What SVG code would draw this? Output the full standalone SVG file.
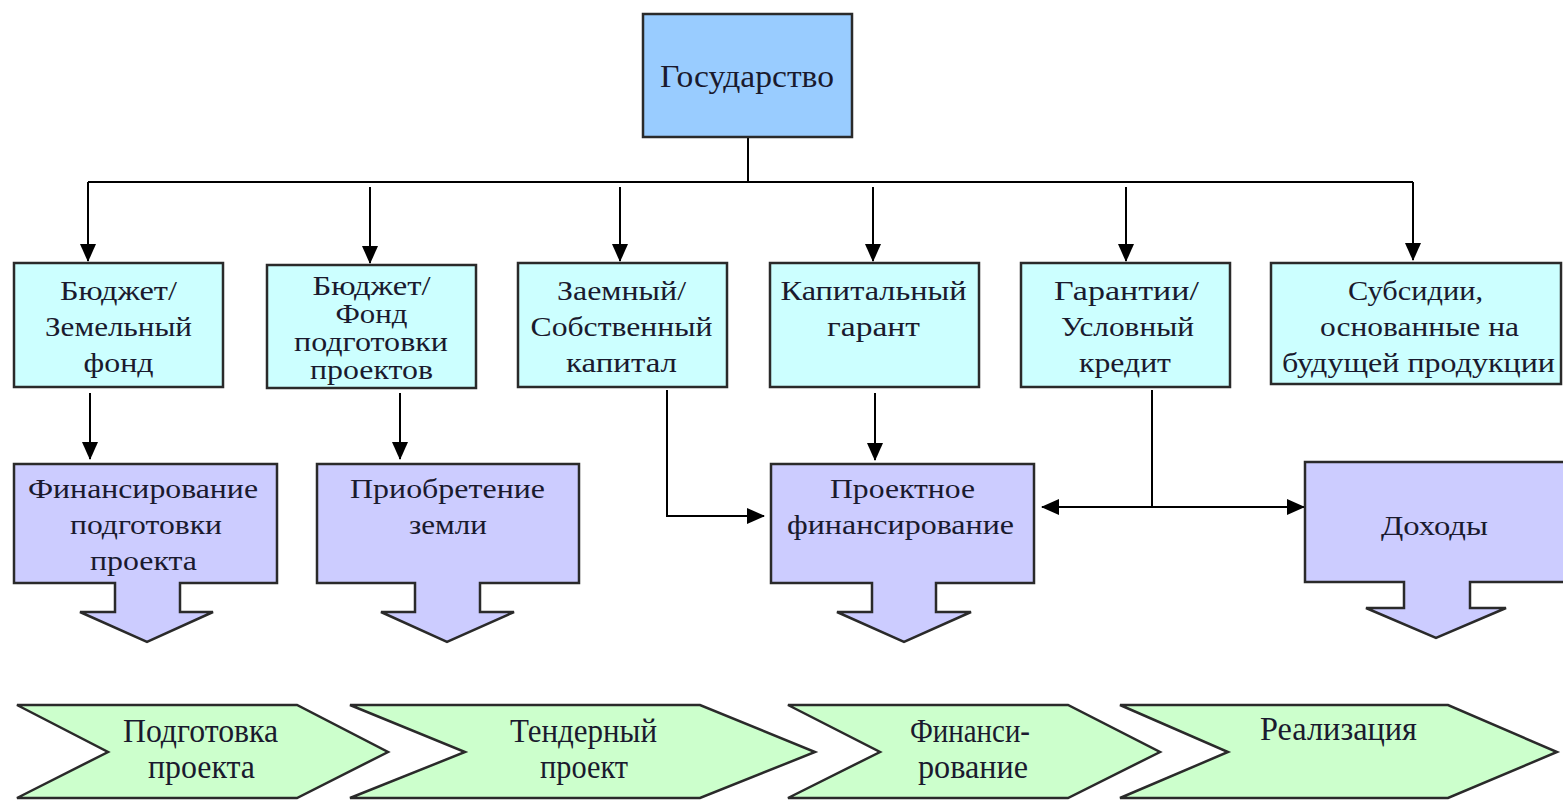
<svg xmlns="http://www.w3.org/2000/svg" width="1563" height="800" viewBox="0 0 1563 800">
<style>
  .box{stroke:#2a2a2a;stroke-width:2.5}
  .top{fill:#99ccff}
  .cy{fill:#ccffff}
  .pu{fill:#ccccff}
  .gr{fill:#ccffcc}
  text{font-family:"Liberation Serif","Times New Roman",serif;fill:#1a1a2e;text-anchor:middle}
  .t27{font-size:27px}
  .t31{font-size:31px}
  .t33{font-size:33px}
  .ln{stroke:#000;stroke-width:2;fill:none}
</style>
<defs>
  <marker id="ah" markerUnits="userSpaceOnUse" markerWidth="18" markerHeight="16" refX="17" refY="8" orient="auto-start-reverse" viewBox="0 0 18 16">
    <path d="M0,0 L18,8 L0,16 z" fill="#000"/>
  </marker>
</defs>

<g id="connectors">
  <path class="ln" d="M748,137 V182"/>
  <path class="ln" d="M88,182 H1413"/>
  <path class="ln" d="M88,182 V261" marker-end="url(#ah)"/>
  <path class="ln" d="M370,187 V263" marker-end="url(#ah)"/>
  <path class="ln" d="M620,187 V261" marker-end="url(#ah)"/>
  <path class="ln" d="M873,187 V261" marker-end="url(#ah)"/>
  <path class="ln" d="M1126,187 V261" marker-end="url(#ah)"/>
  <path class="ln" d="M1413,182 V260" marker-end="url(#ah)"/>
  <path class="ln" d="M90,393 V459" marker-end="url(#ah)"/>
  <path class="ln" d="M400,393 V459" marker-end="url(#ah)"/>
  <path class="ln" d="M875,393 V460" marker-end="url(#ah)"/>
  <path class="ln" d="M667,390 V516 H764" marker-end="url(#ah)"/>
  <path class="ln" d="M1152,390 V507"/>
  <path class="ln" d="M1042,507 H1304" marker-start="url(#ah)" marker-end="url(#ah)"/>
</g>

<g id="gosudarstvo">
  <rect class="box top" x="643" y="14" width="209" height="123"/>
  <text class="t31" x="747" y="87" textLength="174" lengthAdjust="spacingAndGlyphs">Государство</text>
</g>

<g id="budget-land">
  <rect class="box cy" x="14" y="263" width="209" height="124"/>
  <text class="t27" x="118.5" y="300" textLength="117" lengthAdjust="spacingAndGlyphs">Бюджет/</text>
  <text class="t27" x="118.5" y="336" textLength="147" lengthAdjust="spacingAndGlyphs">Земельный</text>
  <text class="t27" x="118.5" y="372" textLength="70" lengthAdjust="spacingAndGlyphs">фонд</text>
</g>

<g id="budget-fund">
  <rect class="box cy" x="267" y="265" width="209" height="123"/>
  <text class="t27" x="371.5" y="295" textLength="118" lengthAdjust="spacingAndGlyphs">Бюджет/</text>
  <text class="t27" x="371.5" y="323" textLength="72" lengthAdjust="spacingAndGlyphs">Фонд</text>
  <text class="t27" x="371" y="351" textLength="154" lengthAdjust="spacingAndGlyphs">подготовки</text>
  <text class="t27" x="371.5" y="379" textLength="123" lengthAdjust="spacingAndGlyphs">проектов</text>
</g>

<g id="loan-equity">
  <rect class="box cy" x="518" y="263" width="209" height="124"/>
  <text class="t27" x="621.5" y="300" textLength="129" lengthAdjust="spacingAndGlyphs">Заемный/</text>
  <text class="t27" x="621.5" y="336" textLength="182" lengthAdjust="spacingAndGlyphs">Собственный</text>
  <text class="t27" x="621.5" y="372" textLength="111" lengthAdjust="spacingAndGlyphs">капитал</text>
</g>

<g id="capital-guarantor">
  <rect class="box cy" x="770" y="263" width="209" height="124"/>
  <text class="t27" x="873.5" y="300" textLength="186" lengthAdjust="spacingAndGlyphs">Капитальный</text>
  <text class="t27" x="873.5" y="336" textLength="93" lengthAdjust="spacingAndGlyphs">гарант</text>
</g>

<g id="guarantees">
  <rect class="box cy" x="1021" y="263" width="209" height="124"/>
  <text class="t27" x="1126.5" y="300" textLength="145" lengthAdjust="spacingAndGlyphs">Гарантии/</text>
  <text class="t27" x="1127.5" y="336" textLength="133" lengthAdjust="spacingAndGlyphs">Условный</text>
  <text class="t27" x="1125" y="372" textLength="92" lengthAdjust="spacingAndGlyphs">кредит</text>
</g>

<g id="subsidies">
  <rect class="box cy" x="1271" y="263" width="290" height="121"/>
  <text class="t27" x="1415.5" y="300" textLength="135" lengthAdjust="spacingAndGlyphs">Субсидии,</text>
  <text class="t27" x="1419.5" y="336" textLength="199" lengthAdjust="spacingAndGlyphs">основанные на</text>
  <text class="t27" x="1418.5" y="372" textLength="273" lengthAdjust="spacingAndGlyphs">будущей продукции</text>
</g>

<g id="prep-financing">
  <path class="box pu" d="M14,464 H277 V583 H180 V612 H213 L147,642 L80,612 H115 V583 H14 Z"/>
  <text class="t27" x="143" y="498" textLength="230" lengthAdjust="spacingAndGlyphs">Финансирование</text>
  <text class="t27" x="146" y="534" textLength="152" lengthAdjust="spacingAndGlyphs">подготовки</text>
  <text class="t27" x="143.5" y="570" textLength="107" lengthAdjust="spacingAndGlyphs">проекта</text>
</g>

<g id="land-acquisition">
  <path class="box pu" d="M317,464 H579 V583 H480 V612 H514 L447,642 L381,612 H415 V583 H317 Z"/>
  <text class="t27" x="447.5" y="498" textLength="195" lengthAdjust="spacingAndGlyphs">Приобретение</text>
  <text class="t27" x="448" y="534" textLength="78" lengthAdjust="spacingAndGlyphs">земли</text>
</g>

<g id="project-financing">
  <path class="box pu" d="M771,464 H1034 V583 H936 V612 H971 L904,642 L837,612 H872 V583 H771 Z"/>
  <text class="t27" x="902.5" y="498" textLength="145" lengthAdjust="spacingAndGlyphs">Проектное</text>
  <text class="t27" x="900.5" y="534" textLength="227" lengthAdjust="spacingAndGlyphs">финансирование</text>
</g>

<g id="revenues">
  <path class="box pu" d="M1305,462 H1566 V582 H1470 V608 H1506 L1436,638 L1366,608 H1404 V582 H1305 Z"/>
  <text class="t27" x="1434.5" y="535" textLength="107" lengthAdjust="spacingAndGlyphs">Доходы</text>
</g>

<g id="stage-preparation">
  <path class="box gr" d="M17,705 H297 L388,752 L297,798 H17 L108,752 Z"/>
  <text class="t33" x="200.5" y="742" textLength="155" lengthAdjust="spacingAndGlyphs">Подготовка</text>
  <text class="t33" x="201.5" y="778" textLength="107" lengthAdjust="spacingAndGlyphs">проекта</text>
</g>

<g id="stage-tender">
  <path class="box gr" d="M350,705 H700 L815,752 L700,798 H350 L465,752 Z"/>
  <text class="t33" x="583.5" y="742" textLength="147" lengthAdjust="spacingAndGlyphs">Тендерный</text>
  <text class="t33" x="584" y="778" textLength="88" lengthAdjust="spacingAndGlyphs">проект</text>
</g>

<g id="stage-financing">
  <path class="box gr" d="M788,705 H1068 L1160,752 L1068,798 H788 L880,752 Z"/>
  <text class="t33" x="970" y="742" textLength="120" lengthAdjust="spacingAndGlyphs">Финанси-</text>
  <text class="t33" x="973" y="778" textLength="110" lengthAdjust="spacingAndGlyphs">рование</text>
</g>

<g id="stage-implementation">
  <path class="box gr" d="M1120,705 H1448 L1557,752 L1448,798 H1120 L1228,752 Z"/>
  <text class="t33" x="1338.5" y="740" textLength="157" lengthAdjust="spacingAndGlyphs">Реализация</text>
</g>
</svg>
